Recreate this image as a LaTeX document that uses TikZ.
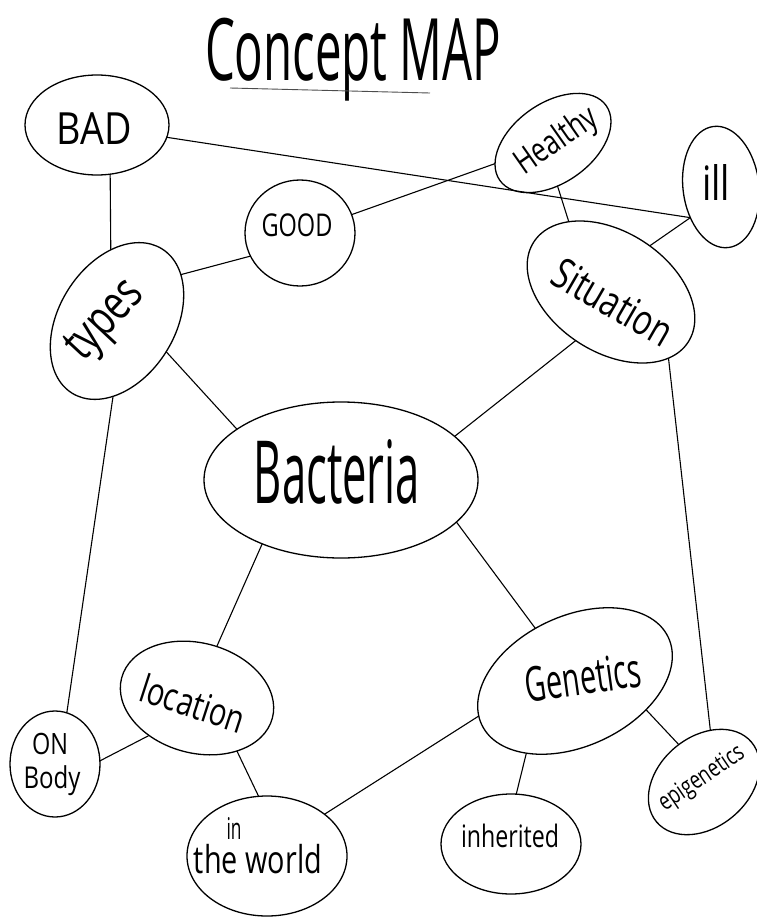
\documentclass[tikz,border=0pt]{standalone}
\usepackage{graphicx}
\usepackage{fontspec}
\setmainfont{Open Sans}
\usetikzlibrary{shapes.geometric}
\newcommand{\hwtxt}[3]{\resizebox{#2}{!}{\scalebox{#1}[1]{#3}}}
\begin{document}
\begin{tikzpicture}[x=1pt,y=-1pt,
  bub/.style={ellipse,draw,line width=1.3pt,inner sep=0pt,outer sep=0pt},
  lnk/.style={line width=1.1pt},
  lbl/.style={inner sep=0pt,outer sep=0pt}]
\fill[white] (0,0) rectangle (757,918);
\useasboundingbox (0,0) rectangle (757,918);

% title
\node[lbl,anchor=base west] (title) at (205,80) {\hwtxt{0.55}{296pt}{Concept MAP}};
\draw[line width=0.9pt,black!70] (230,88) -- (430,93);

% bubbles
\node[bub,minimum width=144pt,minimum height=100pt] (bad) at (97,125) {};
\node[bub,minimum width=110pt,minimum height=106pt] (good) at (300,233) {};
\node[bub,minimum width=130pt,minimum height=80pt,rotate=35] (healthy) at (553,143) {};
\node[bub,minimum width=76pt,minimum height=122pt,rotate=7] (ill) at (721,187) {};
\node[bub,minimum width=184pt,minimum height=120pt,rotate=-33] (situation) at (611,292) {};
\node[bub,minimum width=170pt,minimum height=116pt,rotate=58] (types) at (117,321) {};
\node[bub,minimum width=274pt,minimum height=156pt] (bacteria) at (341,480) {};
\node[bub,minimum width=156pt,minimum height=110pt,rotate=-15] (location) at (197,698) {};
\node[bub,minimum width=90pt,minimum height=106pt] (onbody) at (55,764) {};
\node[bub,minimum width=160pt,minimum height=120pt] (world) at (267,856) {};
\node[bub,minimum width=206pt,minimum height=130pt,rotate=25] (genetics) at (575,681) {};
\node[bub,minimum width=140pt,minimum height=100pt] (inherited) at (511,844) {};
\node[bub,minimum width=124pt,minimum height=90pt,rotate=40] (epi) at (704,782) {};

% labels
\node[lbl] (tbad) at (94,129) {\hwtxt{0.85}{75pt}{BAD}};
\node[lbl] (tgood) at (297,225) {\hwtxt{0.75}{71pt}{GOOD}};
\node[lbl,rotate=35] (thealthy) at (557,142) {\hwtxt{0.75}{92pt}{Healthy}};
\node[lbl] (till) at (716,182) {\resizebox{28pt}{36pt}{ill}};
\node[lbl,rotate=47] (ttypes) at (107,322) {\hwtxt{0.75}{92pt}{types}};
\node[lbl,rotate=-30] (tsituation) at (613,302) {\hwtxt{0.75}{132pt}{Situation}};
\node[lbl] (tbacteria) at (337,472) {\hwtxt{0.5}{166pt}{Bacteria}};
\node[lbl,rotate=-18] (tlocation) at (193,703) {\hwtxt{0.75}{108pt}{location}};
\node[lbl] (ton) at (50,744) {\hwtxt{0.8}{36pt}{ON}};
\node[lbl] (tbody) at (52,781) {\hwtxt{0.8}{57pt}{Body}};
\node[lbl] (tin) at (234,828) {\resizebox{15pt}{22pt}{in}};
\node[lbl] (tworld) at (258,859) {\hwtxt{0.75}{128pt}{the world}};
\node[lbl,rotate=8] (tgenetics) at (583,677) {\hwtxt{0.6}{116pt}{Genetics}};
\node[lbl] (tinherited) at (510,836) {\hwtxt{0.75}{98pt}{inherited}};
\node[lbl,rotate=34] (tepi) at (702,779) {\hwtxt{0.75}{98pt}{epigenetics}};

% connectors
\draw[lnk] (bad.-75) -- (types.37);
\draw[lnk] (bad.-10) -- (ill.-142);
\draw[lnk] (good) -- (healthy);
\draw[lnk] (healthy.-119) -- (situation.154);
\draw[lnk] (ill.-142) -- (situation.83);
\draw[lnk] (types.-22) -- (good.-155);
\draw[lnk] (types.-90) -- (bacteria.154);
\draw[lnk] (situation.-93) -- (bacteria.21);
\draw[lnk] (types.-151) -- (onbody.77);
\draw[lnk] (situation.-16) -- (epi.43);
\draw[lnk] (bacteria.-141) -- (location.84);
\draw[lnk] (bacteria.-20) -- (genetics.102);
\draw[lnk] (location.-127) -- (onbody.4);
\draw[lnk] (location.-38) -- (world.98);
\draw[lnk] (world.36) -- (genetics.175);
\draw[lnk] (genetics.-149) -- (inherited.84);
\draw[lnk] (genetics.-47) -- (epi.84);
\end{tikzpicture}
\end{document}
